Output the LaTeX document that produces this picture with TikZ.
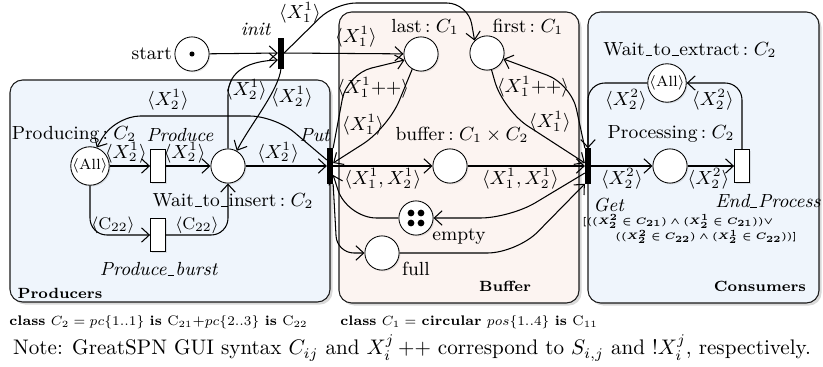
\documentclass[tikz,border=0pt]{standalone}
\usepackage{amsmath,amssymb}
\usepackage{graphicx}
\usepackage{tikz}
\usetikzlibrary{arrows.meta,positioning,shadows,calc}
\definecolor{Frame}{HTML}{1A1A1A}
\definecolor{ProdFill}{HTML}{EFF5FC}
\definecolor{BufFill}{HTML}{FCF4F1}
\newcommand{\us}{\kern0.05em\vbox{\hrule width0.36em}\kern0.05em}

\begin{document}
\begin{tikzpicture}[x=0.016667cm,y=-0.016667cm,
      module/.style={draw=Frame,rounded corners=6pt,line width=0.5pt,
        drop shadow={opacity=0.3,shadow xshift=1.2pt,shadow yshift=-1.2pt}},
      modlbl/.style={font=\scriptsize\bfseries},
      place/.style={circle,draw,fill=white,minimum size=0.57cm,inner sep=0pt,
        drop shadow={opacity=0.2,shadow xshift=0.6pt,shadow yshift=-0.6pt}},
      immtr/.style={draw,fill=black,minimum width=0.09cm,minimum height=0.58cm,inner sep=0pt},
      timedtr/.style={draw,fill=white,minimum width=0.25cm,minimum height=0.55cm,inner sep=0pt,
        drop shadow={opacity=0.2,shadow xshift=0.6pt,shadow yshift=-0.6pt}},
      arc/.style={-{Straight Barb[length=1.3mm,width=2.4mm]},line width=0.5pt},
      plbl/.style={font=\small,inner sep=1pt},
      lbl/.style={font=\small,inner sep=1pt},
      clbl/.style={font=\footnotesize,inner sep=1pt},
      guard/.style={font=\fontsize{5}{7.4}\selectfont\boldmath,align=left,inner sep=0pt},
      classdef/.style={font=\fontsize{7.3}{9}\selectfont,anchor=west,inner sep=0pt}
    ]
      \useasboundingbox (0,0) rectangle (823,367);
      % modules
      \draw[module,fill=ProdFill] (10,80) rectangle (330,302);
      \draw[module,fill=BufFill] (339,12) rectangle (579,303);
      \draw[module,fill=ProdFill] (588,12) rectangle (819,303);
      \node[modlbl] (prodmod) at (60,293) {Producers};
      \node[modlbl] (bufmod) at (505,286) {Buffer};
      \node[modlbl] (consmod) at (760,286) {Consumers};

      % places and transitions
      \node[place] (start) at (192,54) {};
      \node[immtr,minimum height=0.5cm] (init) at (281,53) {};
      \node[place] (producing) at (90,166) {\scriptsize$\langle$All$\rangle$};
      \node[timedtr] (produce) at (158,166) {};
      \node[place] (wait) at (228,166) {};
      \node[timedtr] (burst) at (158,235) {};
      \node[immtr] (put) at (330,166) {};
      \node[place] (last) at (421,54) {};
      \node[place] (first) at (487,53) {};
      \node[place] (buffer) at (450,166) {};
      \node[place] (empty) at (416,218) {};
      \node[place] (full) at (382,253) {};
      \node[immtr] (get) at (588,166) {};
      \node[place] (wte) at (667,83) {\scriptsize$\langle$All$\rangle$};
      \node[place] (proc) at (670,166) {};
      \node[timedtr] (endp) at (742,166) {};

      % tokens
      \fill (start) circle (1.2pt);
      \foreach \dx in {-5,5}
        \foreach \dy in {-5,5}
          \fill ($(empty)+(\dx,\dy)$) circle (1.6pt);

      % names
      \node[plbl,anchor=east] (startlbl) at (start.west) {start};
      \node[plbl] (initlbl) at (256,29) {\textit{init}};
      \node[plbl] (lastlbl) at (425,27) {last$\,:C_1$};
      \node[plbl] (firstlbl) at (528,27) {first$\,:C_1$};
      \node[plbl] (producinglbl) at (74,135) {Producing$\,:C_2$};
      \node[plbl] (producelbl) at (180,135) {\textit{Produce}};
      \node[plbl] (putlbl) at (315,135) {\textit{Put}};
      \node[plbl] (waitlbl) at (233,201) {Wait\us to\us insert$\,:C_2$};
      \node[plbl] (burstlbl) at (159,269) {\textit{Produce\us burst}};
      \node[plbl] (bufferlbl) at (462,135) {buffer$\,:C_1\times C_2$};
      \node[plbl] (emptylbl) at (459,237) {empty};
      \node[plbl] (fulllbl) at (416,269) {full};
      \node[plbl] (wtelbl) at (690,50) {Wait\us to\us extract$\,:C_2$};
      \node[plbl] (proclbl) at (671,134) {Processing$\,:C_2$};
      \node[plbl] (endplbl) at (768,201) {\textit{End\us Process}};
      \node[plbl] (getlbl) at (609,205) {\textit{Get}};
      \node[guard,anchor=north west] (getguard) at (582,214) {%
        \scalebox{0.89}{$[((X^2_2\in C_{21})\wedge(X^1_2\in C_{21}))\vee$}\\
        \hspace*{5.5mm}\scalebox{0.89}{$((X^2_2\in C_{22})\wedge(X^1_2\in C_{22}))]$}};

      % arcs: init
      \draw[arc] (start) -- (init);
      \draw[arc] (init) -- (last);
      \node[lbl] (la) at (356,37) {$\langle X^1_1\rangle$};
      \draw[arc,rounded corners=10pt] (init.east) -- (335,3) -- (468,3) -- (first.north west);
      \node[lbl] (lb) at (300,13) {$\langle X^1_1\rangle$};
      \draw[arc] (wait.north) -- (228,95) .. controls (228,70) and (250,61) .. ($(init.west)+(0,7)$);
      \node[lbl] (lc) at (246,90) {$\langle X^1_2\rangle$};
      \draw[arc] (init.south) .. controls (279,90) and (250,125) .. (wait.60);
      \node[lbl] (ld) at (292,97) {$\langle X^1_2\rangle$};

      % arcs: producers
      \draw[arc,rounded corners=12pt] ($(put.west)+(0,-6)$) -- (275,116) -- (115,116) -- (producing.70);
      \node[lbl] (le) at (168,100) {$\langle X^1_2\rangle$};
      \draw[arc] (producing) -- node[lbl,above,pos=0.4] (lf) {$\langle X^1_2\rangle$} (produce);
      \draw[arc] (produce) -- node[lbl,above,pos=0.42] (lg) {$\langle X^1_2\rangle$} (wait);
      \draw[arc] (wait) -- node[lbl,above,pos=0.4] (lh) {$\langle X^1_2\rangle$} (put);
      \draw[arc,rounded corners=8pt] (producing.south) -- (90,235) -- (burst.west);
      \node[clbl] (li) at (113,225) {$\langle\mathrm{C}_{22}\rangle$};
      \draw[arc,rounded corners=8pt] (burst.east) -- (228,235) -- (wait.south);
      \node[clbl] (lj) at (197,225) {$\langle\mathrm{C}_{22}\rangle$};

      % arcs: buffer
      \draw[arc,rounded corners=12pt] (put.north east) -- (347,74) -- (last.200);
      \node[lbl] (lk) at (373,88) {$\langle X^1_1{+}{+}\rangle$};
      \draw[arc,rounded corners=14pt] (last.240) -- (388,128) -- ($(put.east)+(0,-3)$);
      \node[lbl] (ll) at (363,125) {$\langle X^1_1\rangle$};
      \draw[arc] (put) -- node[lbl,below,pos=0.5] (lm) {$\langle X^1_1,X^1_2\rangle$} (buffer);
      \draw[arc,rounded corners=14pt] (empty.west) -- (347,218) -- ($(put.east)+(0,9)$);
      \draw[arc,rounded corners=8pt] (put.south east) -- (337,253) -- (full.west);
      \draw[arc,rounded corners=14pt] (first.285) -- (503,110) -- ($(get.west)+(0,-3)$);
      \node[lbl] (ln) at (550,122) {$\langle X^1_1\rangle$};
      \draw[arc,rounded corners=12pt] (get.north west) -- (571,84) -- (first.340);
      \node[lbl] (lo) at (533,87) {$\langle X^1_1{+}{+}\rangle$};
      \draw[arc] (buffer) -- node[lbl,below,pos=0.45] (lp) {$\langle X^1_1,X^1_2\rangle$} (get);
      \draw[arc,rounded corners=14pt] ($(get.west)+(0,7)$) -- (510,218) -- (empty.east);
      \draw[arc,rounded corners=14pt] (full.east) -- (517,253) -- (get.south west);

      % arcs: consumers
      \draw[arc,rounded corners=8pt] (wte.west) -- (588,83) -- (get.north);
      \node[lbl] (lq) at (626,100) {$\langle X^2_2\rangle$};
      \draw[arc,rounded corners=8pt] (endp.north) -- (742,83) -- (wte.east);
      \node[lbl] (lr) at (713,100) {$\langle X^2_2\rangle$};
      \draw[arc] (get) -- node[lbl,below,pos=0.5] (ls) {$\langle X^2_2\rangle$} (proc);
      \draw[arc] (proc) -- node[lbl,below,pos=0.45] (lt) {$\langle X^2_2\rangle$} (endp);

      % class definitions and note
      \node[classdef] (classtwo) at (9,322) {\scalebox{0.905}{%
        \textbf{class} $C_2=pc\{1..1\}$ \textbf{is} C$_{21}$+$pc\{2..3\}$ \textbf{is} C$_{22}$}};
      \node[classdef] (classone) at (340,322) {\scalebox{0.905}{%
        \textbf{class} $C_1=$ \textbf{circular} $pos\{1..4\}$ \textbf{is} C$_{11}$}};
      \node (note) at (412,348) {Note: GreatSPN GUI syntax $C_{ij}$ and $X^j_i$\,++
        correspond to $S_{i,j}$ and !$X^j_i$, respectively.};
    \end{tikzpicture}
\end{document}
